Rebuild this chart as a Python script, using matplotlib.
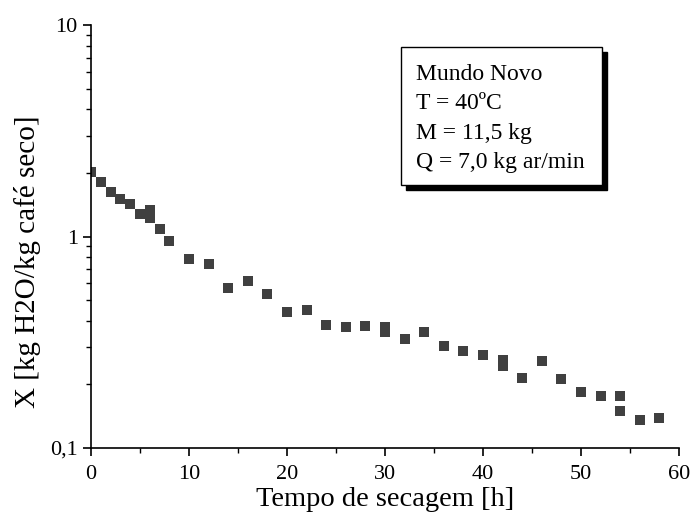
import matplotlib.pyplot as plt
from matplotlib.patches import Rectangle
from matplotlib.ticker import FixedLocator, NullFormatter

# drying data
tempo = [0, 1, 2, 3, 4, 5, 6, 6, 7, 8, 10, 12, 14, 16, 18, 20, 22, 24, 26, 28,
         30, 30, 32, 34, 36, 38, 40, 42, 42, 44, 46, 48, 50, 52, 54, 54, 56, 58]
umidade = [2.01, 1.82, 1.63, 1.51, 1.43, 1.28, 1.33, 1.22, 1.08, 0.957, 0.787,
           0.745, 0.568, 0.613, 0.532, 0.442, 0.447, 0.383, 0.375, 0.379,
           0.372, 0.352, 0.329, 0.352, 0.302, 0.286, 0.274, 0.262, 0.243,
           0.215, 0.259, 0.211, 0.185, 0.177, 0.177, 0.150, 0.135, 0.138]

y_ticks = [0.1, 1, 10]
y_labels = ['0,1', '1', '10']
x_ticks = [0, 10, 20, 30, 40, 50, 60]

info = ['Mundo Novo', 'T = 40ºC', 'M = 11,5 kg', 'Q = 7,0 kg ar/min']

plt.rcParams['font.family'] = ['Liberation Serif', 'DejaVu Serif']

fig = plt.figure(figsize=(6.93, 5.28), dpi=100)
ax = fig.add_axes([0.1313, 0.1515, 0.8485, 0.8011])

ax.plot(tempo, umidade, 's', color='#404040', markersize=7, markeredgewidth=0)

ax.set_yscale('log')
ax.set_ylim(0.1, 10)
ax.set_xlim(0, 60)

ax.set_yticks(y_ticks)
ax.set_yticklabels(y_labels)
ax.yaxis.set_minor_locator(FixedLocator([m * 10.0 ** e for e in (-1, 0) for m in range(2, 10)]))
ax.yaxis.set_minor_formatter(NullFormatter())
ax.set_xticks(x_ticks)
ax.xaxis.set_minor_locator(FixedLocator([5, 15, 25, 35, 45, 55]))

for side in ['top', 'right']:
    ax.spines[side].set_visible(False)
for side in ['left', 'bottom']:
    ax.spines[side].set_linewidth(1.2)

ax.tick_params(which='major', direction='out', length=5.5, width=1.2, labelsize=16)
ax.tick_params(axis='x', which='major', pad=7)
ax.tick_params(axis='y', which='major', pad=4)
ax.tick_params(which='minor', direction='out', length=3.5, width=1.0)

ax.set_xlabel('Tempo de secagem [h]', fontsize=20.5, labelpad=2)
ax.set_ylabel('X [kg H2O/kg café seco]', fontsize=21)
ax.yaxis.set_label_coords(-0.085, 0.44)

# info box with a drop shadow
bx, by, bw, bh = 0.5786, 0.6496, 0.290, 0.2614
fig.patches.append(Rectangle((bx + 0.0072, by - 0.0095), bw, bh, transform=fig.transFigure,
                             facecolor='black', edgecolor='black', zorder=3))
fig.patches.append(Rectangle((bx, by), bw, bh, transform=fig.transFigure,
                             facecolor='white', edgecolor='black', linewidth=1.0, zorder=4))
for i, line in enumerate(info):
    yb = 1 - (80 + i * 29.3) / 528
    fig.text(0.6003, yb, line, fontsize=17, va='baseline', ha='left', zorder=5)

fig.savefig('out.png', dpi=100)
